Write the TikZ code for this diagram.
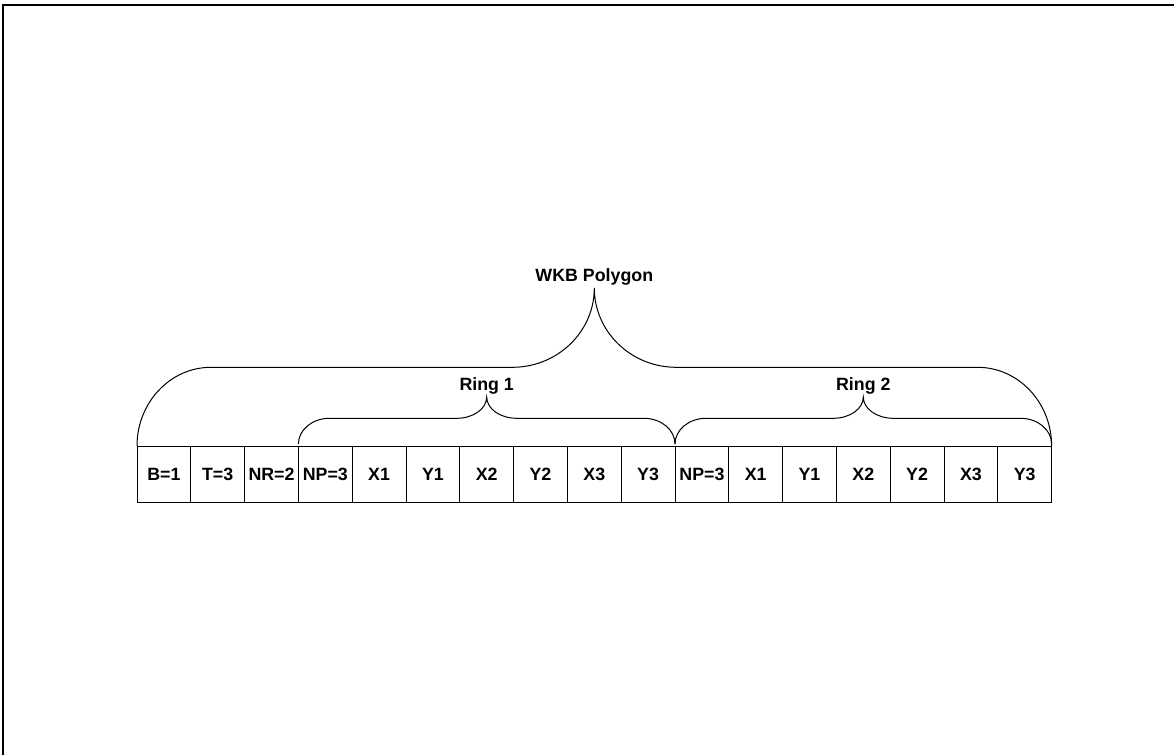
\documentclass[tikz,border=0pt]{standalone}
\usepackage{fontspec}
\setmainfont{Liberation Sans}
\newcommand\mybrace[7]{% a b y0 yh yt w w2
  \draw[bracel] (#1,#3) .. controls (#1,{#3-0.552*(#3-#4)}) and ({#1+#6*0.448},#4) .. ({#1+#6},#4)
   -- ({(#1+#2)/2-#7},#4) .. controls ({(#1+#2)/2-#7*0.448},#4) and ({(#1+#2)/2},{#5+0.552*(#4-#5)}) .. ({(#1+#2)/2},#5)
   .. controls ({(#1+#2)/2},{#5+0.552*(#4-#5)}) and ({(#1+#2)/2+#7*0.448},#4) .. ({(#1+#2)/2+#7},#4)
   -- ({#2-#6},#4) .. controls ({#2-#6*0.448},#4) and (#2,{#3-0.552*(#3-#4)}) .. (#2,#3);}
\begin{document}
\begin{tikzpicture}[x=1pt,y=-1pt,
  cell/.style={draw, line width=1pt, minimum width=53.8pt, minimum height=55.5pt, inner sep=0pt,
    font=\fontsize{17.8}{20}\selectfont\bfseries},
  lbl/.style={inner sep=0pt, font=\fontsize{17.8}{20}\selectfont\bfseries},
  bracel/.style={line width=1pt},
  frame/.style={line width=2pt}]
\useasboundingbox (0,0) rectangle (1174,755);
\coordinate (fb) at (3,755);
\coordinate (fc) at (3,5.3);
\coordinate (fr) at (1174,5.3);
\draw[frame] (fb) -- (fc) -- (fr);
\foreach \t [count=\i from 0] in {B=1,T=3,NR=2,NP=3,X1,Y1,X2,Y2,X3,Y3,NP=3,X1,Y1,X2,Y2,X3,Y3}
  \node[cell] (c\i) at ({137+53.8*(\i+0.5)},474.5) {\t};
\node[lbl] (wkb) at (594.3,276.7) {WKB Polygon};
\node[lbl] (r1) at (486.7,385.7) {Ring 1};
\node[lbl] (r2) at (863.3,385.7) {Ring 2};
\mybrace{137}{1051.6}{446}{367.3}{288}{74}{82}
\mybrace{298.4}{675}{444}{418.3}{397}{31}{30}
\mybrace{675}{1051.6}{444}{418.3}{397}{31}{30}
\end{tikzpicture}
\end{document}
